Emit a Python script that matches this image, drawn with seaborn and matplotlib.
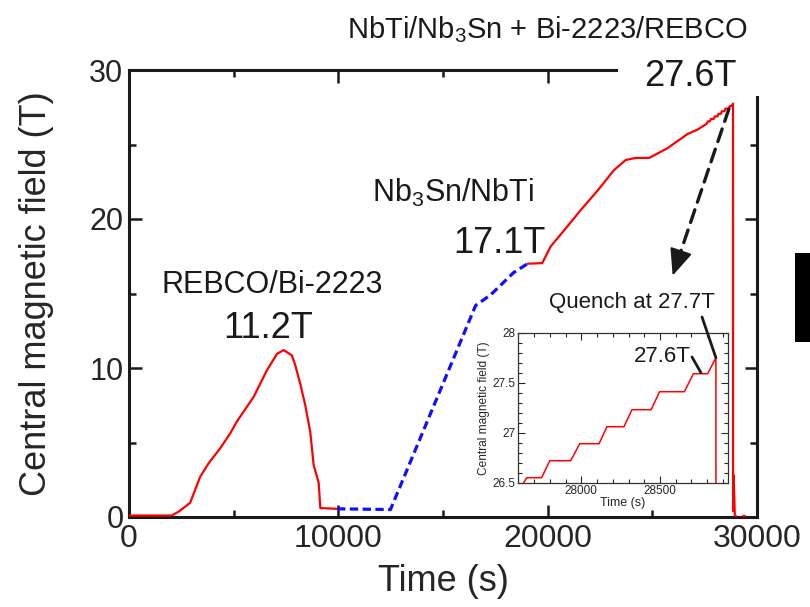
import numpy as np
import pandas as pd
import matplotlib
matplotlib.use("Agg")
import matplotlib.pyplot as plt
import seaborn as sns
from matplotlib.patches import Rectangle
from matplotlib.ticker import MultipleLocator, FuncFormatter

# 데이터
# REBCO/Bi-2223 단독 여자
t_hts = [0, 2040, 2360, 2920, 3400, 3800, 4350, 4830, 5150, 5950, 6590, 7070, 7390,
         7780, 7940, 8180, 8420, 8660, 8820, 9060, 9140, 9940]
b_hts = [0.1, 0.1, 0.35, 0.95, 2.7, 3.6, 4.6, 5.6, 6.4, 8.05, 9.85, 10.95, 11.2,
         10.85, 10.2, 8.95, 7.5, 5.7, 3.5, 2.3, 0.6, 0.55]

# Nb3Sn/NbTi 외층 여자 (점선)
t_lts = [9940, 12490, 16560, 17270, 18370, 19040]
b_lts = [0.55, 0.5, 14.2, 14.9, 16.4, 17.0]

# 전체 코일 여자 -> 퀜치
t_all = [19040, 19740, 20140, 20940, 21580, 22380, 23180, 23730, 24210, 24850, 25720,
         26680, 27160, 27590, 27653, 27748, 27800, 27933, 27990, 28113, 28163, 28271,
         28322, 28444, 28497, 28655, 28712, 28803, 28855, 28858, 28885, 28940, 29000]
b_all = [17.0, 17.04, 18.15, 19.5, 20.6, 21.9, 23.3, 23.96, 24.1, 24.1, 24.75,
         25.7, 26.0, 26.38, 26.55, 26.55, 26.72, 26.72, 26.89, 26.89, 27.06, 27.06,
         27.23, 27.23, 27.41, 27.41, 27.59, 27.59, 27.75, 0.4, 2.8, 0.15, 0.05]

t_tail = [29350, 29450]
b_tail = [0.1, 0.1]

W, H = 810, 607
RED = "#ff0000"
BLUE = "#1010ff"

sns.set_theme(style="ticks")
plt.rcParams["font.family"] = ["Liberation Sans", "DejaVu Sans"]
plt.rcParams["mathtext.fontset"] = "custom"
plt.rcParams["mathtext.rm"] = "Liberation Sans"
plt.rcParams["mathtext.it"] = "Liberation Sans"


def px(x, y):
    # 이미지 픽셀 -> figure 비율
    return x / W, 1 - y / H


fig = plt.figure(figsize=(W / 100, H / 100), dpi=100)
fig.patch.set_facecolor("white")

l, r, b, t = 129, 757, 517, 70
ax = fig.add_axes([l / W, 1 - b / H, (r - l) / W, (b - t) / H])

df_hts = pd.DataFrame({"time": t_hts, "field": b_hts})
df_lts = pd.DataFrame({"time": t_lts, "field": b_lts})
df_all = pd.DataFrame({"time": t_all, "field": b_all})
df_tail = pd.DataFrame({"time": t_tail, "field": b_tail})

for d in (df_hts, df_all, df_tail):
    sns.lineplot(data=d, x="time", y="field", ax=ax, color=RED, lw=1.6,
                 sort=False, estimator=None, zorder=3)
sns.lineplot(data=df_lts, x="time", y="field", ax=ax, color=BLUE, lw=2.3,
             linestyle=(0, (2.6, 1.4)), sort=False, estimator=None, zorder=3)

ax.set_xlim(0, 30000)
ax.set_ylim(0, 30)
ax.xaxis.set_major_locator(MultipleLocator(10000))
ax.xaxis.set_minor_locator(MultipleLocator(5000))
ax.yaxis.set_major_locator(MultipleLocator(10))
ax.yaxis.set_minor_locator(MultipleLocator(5))
ax.tick_params(which="both", direction="in", top=True, right=True, width=1.8, color="k")
ax.tick_params(which="major", length=9)
ax.tick_params(which="minor", length=5)
ax.tick_params(axis="x", labelsize=23, pad=5)
ax.tick_params(axis="y", labelsize=22, pad=4)
for s in ax.spines.values():
    s.set_linewidth(2.2)
    s.set_color("k")

ax.set_xlabel("Time (s)", fontsize=26)
ax.set_ylabel("Central magnetic field (T)", fontsize=26)
ax.xaxis.set_label_coords(0.5, -0.105)
ax.yaxis.set_label_coords(-0.12, 0.5)

# 퀜치 지점 -> 인셋 점선 화살표 (점선 몸통 + 실선 머리)
arrow_from = (28660, 27.4)
arrow_head = (26330, 17.7)
arrow_to = (25970, 16.2)
ax.annotate("", xy=arrow_head, xytext=arrow_from,
            arrowprops=dict(arrowstyle="-", linestyle=(0, (4, 2.4)), lw=2.4, color="k",
                            shrinkA=0, shrinkB=0))
ax.annotate("", xy=arrow_to, xytext=arrow_head,
            arrowprops=dict(arrowstyle="-|>,head_length=0.75,head_width=0.32", lw=1.5,
                            color="k", shrinkA=0, shrinkB=0, mutation_scale=22))

# 인셋
il, ir, ib, it = 518.3, 727.7, 482.7, 332.7
ax_in = fig.add_axes([il / W, 1 - ib / H, (ir - il) / W, (ib - it) / H])
sns.lineplot(data=df_all, x="time", y="field", ax=ax_in, color=RED, lw=1.1,
             sort=False, estimator=None)
ax_in.set_xlim(27600, 28930)
ax_in.set_ylim(26.5, 28)
ax_in.xaxis.set_major_locator(MultipleLocator(500))
ax_in.xaxis.set_minor_locator(MultipleLocator(100))
ax_in.yaxis.set_major_locator(MultipleLocator(0.5))
ax_in.yaxis.set_minor_locator(MultipleLocator(0.1))
ax_in.yaxis.set_major_formatter(FuncFormatter(lambda v, p: f"{v:g}"))
ax_in.tick_params(which="both", direction="in", top=True, right=True, width=0.8,
                  labelsize=8.5, pad=2)
ax_in.tick_params(which="major", length=5)
ax_in.tick_params(which="minor", length=3)
for s in ax_in.spines.values():
    s.set_linewidth(0.9)
    s.set_color("#333333")
ax_in.set_xlabel("Time (s)", fontsize=9, labelpad=0)
ax_in.set_ylabel("Central magnetic field (T)", fontsize=8.6, labelpad=2)

# 지시선
ax_in.annotate("", xy=(28855, 27.75), xytext=(702, H - 317), textcoords="figure pixels",
               arrowprops=dict(arrowstyle="-", lw=2.0, color="k", shrinkA=0, shrinkB=0))
ax_in.annotate("", xy=(28760, 27.6), xytext=(692, H - 357), textcoords="figure pixels",
               arrowprops=dict(arrowstyle="-", lw=2.0, color="k", shrinkA=0, shrinkB=0))

# 오른쪽 위 모서리 가림
fig.add_artist(Rectangle(px(618, 96), 160 / W, 45 / H, transform=fig.transFigure,
                         facecolor="white", edgecolor="none", zorder=5))
# 오른쪽 검은 블록
fig.add_artist(Rectangle(px(795, 342), 15 / W, 89 / H, transform=fig.transFigure,
                         facecolor="black", edgecolor="none", zorder=5))


def label(x, y, s, size):
    fig.text(*px(x, y), s, fontsize=size, ha="center", va="baseline", color="k", zorder=6)


label(547, 38, r"NbTi/Nb$_{\mathrm{3}}$Sn + Bi-2223/REBCO", 21)
label(690, 86, "27.6T", 26)
label(272, 293, "REBCO/Bi-2223", 22)
label(268, 338, "11.2T", 26)
label(453, 202, r"Nb$_{\mathrm{3}}$Sn/NbTi", 22)
label(499, 253, "17.1T", 26)
label(632, 308, "Quench at 27.7T", 16)
label(662, 362, "27.6T", 16)

plt.savefig("out.png", dpi=100, facecolor="white")
